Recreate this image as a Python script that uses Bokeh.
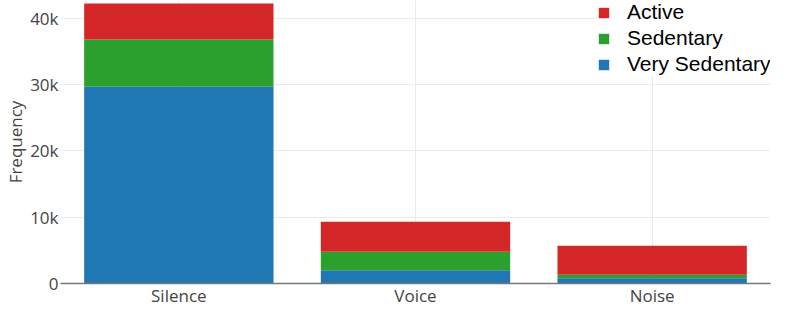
from bokeh.plotting import figure
from bokeh.models import FactorRange, Range1d, Legend, LegendItem, FixedTicker
from bokeh.embed import file_html
from bokeh.resources import INLINE

# ---- data ----
categories = ["Silence", "Voice", "Noise"]
very_sedentary = [29700, 2000, 800]
sedentary = [7100, 2800, 530]
active = [5450, 4530, 4360]
series_names = ["Very Sedentary", "Sedentary", "Active"]
series_colors = ["#1f77b4", "#2ca02c", "#d62728"]
y_ticks = [0, 10000, 20000, 30000, 40000]
y_tick_labels = ["0", "10k", "20k", "30k", "40k"]

data = {"cat": categories,
        "Very Sedentary": very_sedentary,
        "Sedentary": sedentary,
        "Active": active}

p = figure(x_range=FactorRange(*categories, range_padding=0),
           y_range=Range1d(0, 42700),
           width=786, height=309,
           output_backend="svg", toolbar_location=None,
           min_border_left=60, min_border_right=16,
           min_border_top=0, min_border_bottom=20)

renderers = p.vbar_stack(series_names, x="cat", width=0.8, source=data,
                         color=series_colors, line_color=None)

p.outline_line_color = None
p.background_fill_color = "white"

# grids
p.ygrid.ticker = FixedTicker(ticks=y_ticks)
p.ygrid.grid_line_color = "#ebebeb"
p.xgrid.grid_line_color = "#ebebeb"

# y axis
p.yaxis.ticker = FixedTicker(ticks=y_ticks)
p.yaxis.major_label_overrides = {t: l for t, l in zip(y_ticks, y_tick_labels)}
p.yaxis.axis_line_color = None
p.yaxis.major_tick_line_color = None
p.yaxis.minor_tick_line_color = None
p.yaxis.major_label_standoff = -4
p.yaxis.major_label_text_font = "Open Sans"
p.yaxis.major_label_text_font_size = "17px"
p.yaxis.major_label_text_color = "#444444"
p.yaxis.axis_label = "Frequency"
p.yaxis.axis_label_standoff = 0
p.yaxis.axis_label_text_font = "Open Sans"
p.yaxis.axis_label_text_font_size = "17px"
p.yaxis.axis_label_text_font_style = "normal"
p.yaxis.axis_label_text_color = "#444444"

# x axis
p.xaxis.axis_line_color = "#777777"
p.xaxis.axis_line_width = 1.5
p.xaxis.major_tick_line_color = None
p.xaxis.minor_tick_line_color = None
p.xaxis.major_label_standoff = -6
p.xaxis.major_label_text_font = "Open Sans"
p.xaxis.major_label_text_font_size = "17px"
p.xaxis.major_label_text_color = "#444444"

# legend (Active on top)
items = [LegendItem(label=n, renderers=[r]) for n, r in zip(series_names, renderers)]
items = items[::-1]
legend = Legend(items=items, location=(537, 207),
                padding=0, margin=0, spacing=2,
                glyph_width=13, glyph_height=13,
                label_height=21, label_standoff=17,
                label_text_font="Liberation Sans", label_text_font_size="21px",
                label_text_color="#000000",
                border_line_color=None,
                background_fill_color="white", background_fill_alpha=1)
p.add_layout(legend, "center")

open("out.html", "w").write(file_html(p, INLINE))
